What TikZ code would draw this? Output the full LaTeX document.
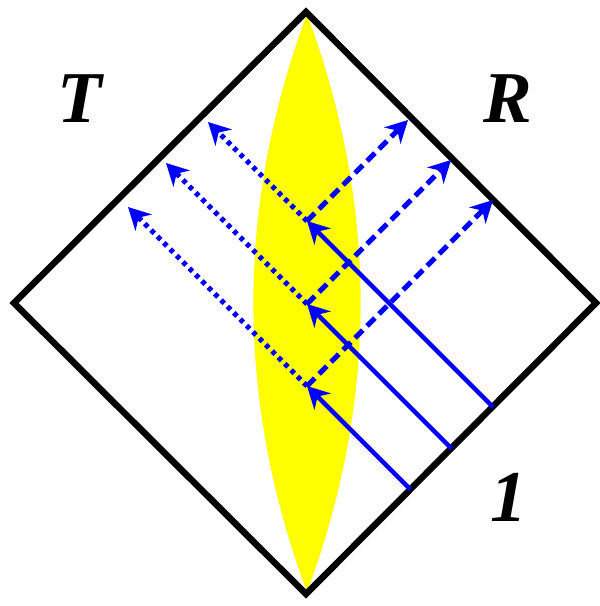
\documentclass[tikz,border=0pt]{standalone}
\usepackage{fontspec}
\setmainfont{Liberation Serif}
\usetikzlibrary{arrows.meta}
\definecolor{lensyellow}{RGB}{255,255,0}
\definecolor{rayblue}{RGB}{0,0,255}
\tikzset{
  frame/.style={draw=black,line width=6.5pt,line join=miter},
  tip/.style={-{Stealth[length=22pt,width=23pt,inset=7pt]}},
  inray/.style={draw=rayblue,line width=4.5pt,tip},
  outray/.style={draw=rayblue,line width=5pt,dash pattern=on 11pt off 6pt,tip},
  backray/.style={draw=rayblue,line width=5pt,dash pattern=on 4.5pt off 4.5pt,tip},
  lbl/.style={inner sep=0pt,font=\fontsize{73}{80}\selectfont\bfseries\itshape}
}
\begin{document}
\begin{tikzpicture}[x=1pt,y=-1pt]
\useasboundingbox (0,0) rectangle (600,606);
% lens
\fill[lensyellow] (307,14) .. controls (378.5,206.7) and (378.5,399.3) .. (307,592)
  .. controls (235.5,399.3) and (235.5,206.7) .. (307,14) -- cycle;
% diamond
\coordinate (top) at (306,12);
\coordinate (right) at (596,303);
\coordinate (bottom) at (306,594);
\coordinate (left) at (14,303);
\draw[frame] (top) -- (right) -- (bottom) -- (left) -- cycle;
% junctions
\coordinate (j1) at (307,221);
\coordinate (j2) at (307,304);
\coordinate (j3) at (307,386);
% incoming (solid) starts on lower-right edge
\coordinate (s1) at (493,407);
\coordinate (s2) at (451.5,448.5);
\coordinate (s3) at (410.5,489.5);
% dashed tips
\coordinate (d1) at (408,120);
\coordinate (d2) at (451,160);
\coordinate (d3) at (493,200);
% dotted tips
\coordinate (b1) at (208,122);
\coordinate (b2) at (166,163);
\coordinate (b3) at (128,207);
\draw[backray] (j1) -- (b1);
\draw[backray] (j2) -- (b2);
\draw[backray] (j3) -- (b3);
\draw[outray] (j1) -- (d1);
\draw[outray] (j2) -- (d2);
\draw[outray] (j3) -- (d3);
\draw[inray] (s1) -- (j1);
\draw[inray] (s2) -- (j2);
\draw[inray] (s3) -- (j3);
% labels
\node[lbl] (T) at (80,99) {T};
\node[lbl] (R) at (508,99) {R};
\node[lbl] (one) at (509,497.5) {1};
\end{tikzpicture}
\end{document}
